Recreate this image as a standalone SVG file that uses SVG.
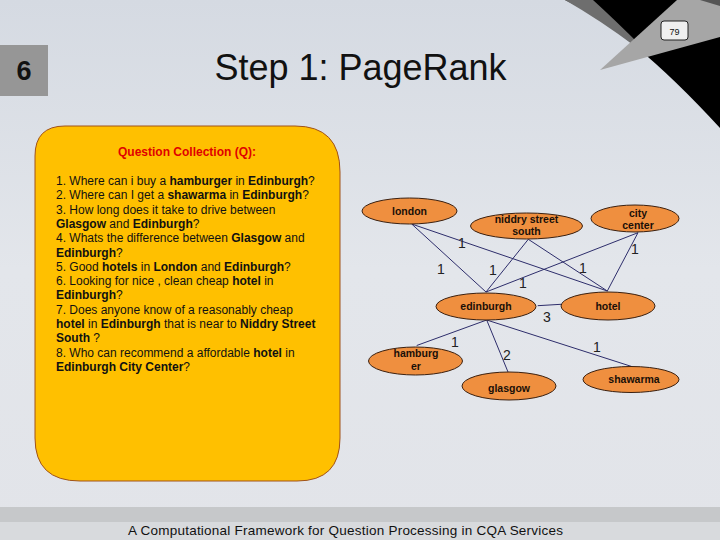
<svg xmlns="http://www.w3.org/2000/svg" width="720" height="540" viewBox="0 0 720 540">
<defs>
<linearGradient id="bg" x1="0" y1="0" x2="0" y2="1">
<stop offset="0" stop-color="#d5dae2"/>
<stop offset="0.5" stop-color="#e3e6eb"/>
<stop offset="1" stop-color="#e2e4e9"/>
</linearGradient>
<style>
.q{font-family:"Liberation Sans",Arial,sans-serif;font-size:12px;fill:#111}
.q tspan.b{font-weight:bold}
.n ellipse{fill:#ef8f3f;stroke:#3a2010;stroke-width:1}
.n text{font-family:"Liberation Sans",Arial,sans-serif;font-size:10.5px;font-weight:bold;fill:#1a1008;text-anchor:middle}
.e line{stroke:#2d2d6b;stroke-width:1}
.w{font-family:"Liberation Sans",Arial,sans-serif;font-size:14px;fill:#222;text-anchor:middle}
</style>
</defs>
<rect width="720" height="540" fill="url(#bg)"/>
<!-- top right decoration -->
<path d="M565,0 L720,0 L720,130 L720,128 Q630,30 565,0 Z" fill="#000"/>
<path d="M565,0 L593,0 Q615,20 640,45 L636,47 Q600,20 565,0 Z" fill="#6e6e6e"/>
<path d="M600,70 L677,0 L720,0 L720,37 Z" fill="#a6a6a6"/>
<path d="M700,0 L720,0 L720,6 Z" fill="#555"/>
<rect x="661" y="21" width="27" height="19" rx="3" fill="#efefef" stroke="#222" stroke-width="1"/>
<text x="674.5" y="34.5" font-family="'Liberation Sans',Arial,sans-serif" font-size="9" text-anchor="middle" fill="#111">79</text>
<!-- section number -->
<rect x="0" y="45" width="48" height="51" fill="#969696"/>
<text x="24" y="80" font-family="'Liberation Sans',Arial,sans-serif" font-size="27" font-weight="bold" text-anchor="middle" fill="#111">6</text>
<text x="360.5" y="80" font-family="'Liberation Sans',Arial,sans-serif" font-size="36" text-anchor="middle" fill="#111">Step 1: PageRank</text>
<!-- bottom bar -->
<rect x="0" y="507" width="720" height="15" fill="#c6c8ca"/>
<rect x="0" y="522" width="720" height="18" fill="#d8dadd"/>
<text x="345.5" y="535" font-family="'Liberation Sans',Arial,sans-serif" font-size="13.5" text-anchor="middle" fill="#111" textLength="435">A Computational Framework for Question Processing in CQA Services</text>
<!-- question box -->
<g id="question-box">
<path d="M65,126 L295,126 Q340,126 340,172 L340,438 Q340,481 297,481 L80,481 Q35,481 35,438 L35,156 Q35,126 65,126 Z" fill="#ffc000" stroke="#a0521a" stroke-width="1"/>
<text x="187" y="156" font-family="'Liberation Sans',Arial,sans-serif" font-size="12" font-weight="bold" text-anchor="middle" fill="#e00000">Question Collection (Q):</text>
<text class="q" x="56" y="185">1. Where can i buy a <tspan class="b">hamburger</tspan> in <tspan class="b">Edinburgh</tspan>?</text>
<text class="q" x="56" y="199.3">2. Where can I get a <tspan class="b">shawarma</tspan> in <tspan class="b">Edinburgh</tspan>?</text>
<text class="q" x="56" y="213.6">3. How long does it take to drive between</text>
<text class="q" x="56" y="227.9"><tspan class="b">Glasgow</tspan> and <tspan class="b">Edinburgh</tspan>?</text>
<text class="q" x="56" y="242.2">4. Whats the difference between <tspan class="b">Glasgow</tspan> and</text>
<text class="q" x="56" y="256.5"><tspan class="b">Edinburgh</tspan>?</text>
<text class="q" x="56" y="270.8">5. Good <tspan class="b">hotels</tspan> in <tspan class="b">London</tspan> and <tspan class="b">Edinburgh</tspan>?</text>
<text class="q" x="56" y="285.1">6. Looking for nice , clean cheap <tspan class="b">hotel</tspan> in</text>
<text class="q" x="56" y="299.4"><tspan class="b">Edinburgh</tspan>?</text>
<text class="q" x="56" y="313.7">7. Does anyone know of a reasonably cheap</text>
<text class="q" x="56" y="328"><tspan class="b">hotel</tspan> in <tspan class="b">Edinburgh</tspan> that is near to <tspan class="b">Niddry Street</tspan></text>
<text class="q" x="56" y="342.3"><tspan class="b">South</tspan> ?</text>
<text class="q" x="56" y="356.6">8. Who can recommend a affordable <tspan class="b">hotel</tspan> in</text>
<text class="q" x="56" y="370.9"><tspan class="b">Edinburgh City Center</tspan>?</text>
</g>
<!-- connectors -->
<g id="connectors" class="e">
<line x1="411.7" y1="224" x2="486" y2="292"/>
<line x1="411.7" y1="224" x2="607.3" y2="291"/>
<line x1="528.3" y1="239.3" x2="486" y2="292"/>
<line x1="528.3" y1="239.3" x2="607.3" y2="291"/>
<line x1="638" y1="232.7" x2="486" y2="292"/>
<line x1="638" y1="232.7" x2="607.3" y2="291"/>
<line x1="537.7" y1="305.7" x2="561" y2="304.3"/>
<line x1="486.7" y1="320" x2="416.7" y2="345.5"/>
<line x1="486.7" y1="320" x2="508.3" y2="372.7"/>
<line x1="486.7" y1="320" x2="631.7" y2="366.5"/>
</g>
<g id="edge-labels">
<text class="w" x="441" y="274">1</text>
<text class="w" x="462" y="248">1</text>
<text class="w" x="493" y="275">1</text>
<text class="w" x="583" y="273">1</text>
<text class="w" x="523" y="288">1</text>
<text class="w" x="635" y="254">1</text>
<text class="w" x="547" y="322">3</text>
<text class="w" x="455" y="347">1</text>
<text class="w" x="507" y="360">2</text>
<text class="w" x="597" y="352">1</text>
</g>
<!-- nodes -->
<g id="node-london" class="n"><ellipse cx="409.5" cy="211" rx="47.5" ry="13"/><text x="409.5" y="215">london</text></g>
<g id="node-niddry" class="n"><ellipse cx="526.5" cy="226" rx="56" ry="13"/><text x="526.5" y="223">niddry street</text><text x="526.5" y="235">south</text></g>
<g id="node-city-center" class="n"><ellipse cx="635" cy="218.5" rx="44" ry="13.5"/><text x="638" y="216.5">city</text><text x="638" y="228.5">center</text></g>
<g id="node-edinburgh" class="n"><ellipse cx="486" cy="306.5" rx="50" ry="13.5"/><text x="486" y="310">edinburgh</text></g>
<g id="node-hotel" class="n"><ellipse cx="608" cy="306" rx="47" ry="14"/><text x="608" y="309.5">hotel</text></g>
<g id="node-hamburger" class="n"><ellipse cx="415.5" cy="361" rx="47" ry="14"/><text x="416" y="357">hamburg</text><text x="416" y="370">er</text></g>
<g id="node-glasgow" class="n"><ellipse cx="509" cy="386" rx="47" ry="14"/><text x="509" y="392">glasgow</text></g>
<g id="node-shawarma" class="n"><ellipse cx="631" cy="379.5" rx="48" ry="13"/><text x="634" y="383">shawarma</text></g>
</svg>
